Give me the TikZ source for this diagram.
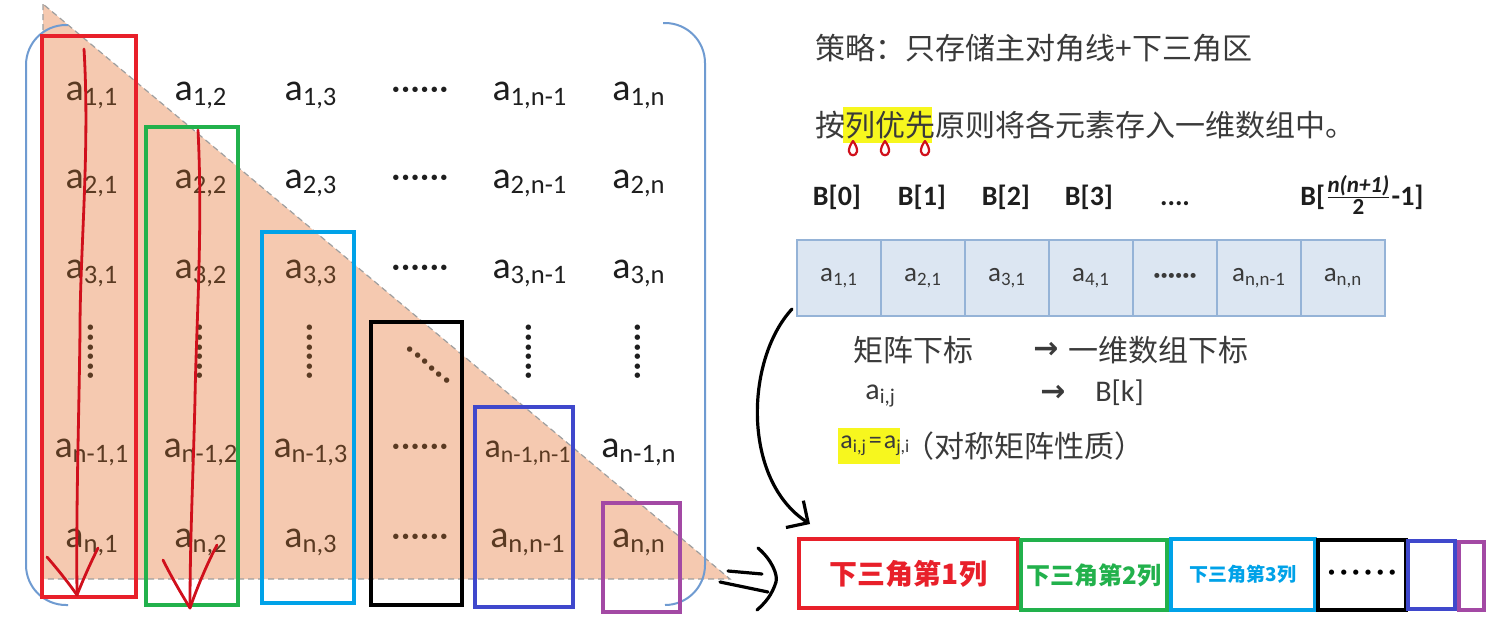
\documentclass[tikz,border=0pt]{standalone}
\usepackage{amsmath}
\usepackage{fontspec}
\setmainfont{Carlito}
\newfontfamily\cjk{Noto Sans CJK SC}
\newfontfamily\symfont{DejaVu Sans}
\usetikzlibrary{positioning,arrows.meta}

\definecolor{triFill}{HTML}{F5C9B0}
\definecolor{entBrown}{HTML}{5A3A22}
\definecolor{entBlack}{HTML}{1E1E1E}
\definecolor{brkBlue}{HTML}{6F9BD1}
\definecolor{boxRed}{HTML}{E8202A}
\definecolor{boxGreen}{HTML}{22B14C}
\definecolor{boxCyan}{HTML}{00A2E8}
\definecolor{boxBlue}{HTML}{3F48CC}
\definecolor{boxPurple}{HTML}{A349A4}
\definecolor{penRed}{HTML}{D0101C}
\definecolor{txtGray}{HTML}{3A3A3A}
\definecolor{cellFill}{HTML}{DCE6F2}
\definecolor{cellLine}{HTML}{95B3D7}
\definecolor{hlYellow}{HTML}{F7F71E}

\newcommand{\ix}[2]{#1\textsubscript{#2}}

\begin{document}
\begin{tikzpicture}[x=0.5pt, y=-0.5pt, >=Stealth,
  ent/.style={font=\fontsize{19}{22}\selectfont, inner sep=0pt, anchor=base, text=entBlack},
  lowent/.style={ent, text=entBrown},
  vdots/.style={font=\fontsize{19}{22}\selectfont, inner sep=0pt, rotate=90, text=#1},
  colbox/.style={draw=#1, line width=2pt},
  pen/.style={penRed, line width=1.4pt, line cap=round, line join=round},
  cell/.style={draw=cellLine, fill=cellFill, line width=0.8pt, outer sep=0pt, inner sep=0pt,
    minimum width=42pt, minimum height=38pt, font=\fontsize{13.5}{15}\selectfont, text=txtGray},
  cjktxt/.style={font=\cjk\fontsize{15}{18}\selectfont, text=txtGray, inner sep=0pt, anchor=west},
  blabel/.style={font=\bfseries\fontsize{14}{16}\selectfont, text=entBlack, inner sep=0pt, anchor=base},
  seg/.style={draw=#1, text=#1, line width=2pt, inner sep=0pt, outer sep=0pt, font=\cjk\bfseries}
]
  \useasboundingbox (0,0) rectangle (1490,638);
  \fill[white] (0,0) rectangle (1490,638);

  % ---- lower triangle and matrix brackets
  \filldraw[fill=triFill, draw=gray!75, dash pattern=on 3pt off 2pt, line width=0.6pt]
    (43,4) -- (43,579) -- (730,579) -- cycle;
  \draw[brkBlue, line width=1pt, rounded corners=20pt] (68,25) -- (26,25) -- (26,605) -- (68,605);
  \draw[brkBlue, line width=1pt, rounded corners=20pt] (663,23) -- (705,23) -- (705,605) -- (665,605);

  % ---- matrix entries, rows 1..3
  \foreach \ri/\y in {1/100,2/188,3/278} {
    \foreach \ci/\x in {1/92,2/201,3/311} {
      \ifnum\ci>\ri \def\st{ent}\else\def\st{lowent}\fi
      \node[\st] (m\ri\ci) at (\x,\y) {\ix{a}{\ri,\ci}};
    }
    \node[ent] (m\ri d) at (420,\y) {······};
    \node[ent] (m\ri x) at (530,\y) {\ix{a}{\ri,n-1}};
    \node[ent] (m\ri n) at (639,\y) {\ix{a}{\ri,n}};
  }
  % row of dots
  \foreach \ci/\x in {1/95,2/204,3/314} {
    \node[vdots=entBrown] (v\ci) at (\x,352) {······};
  }
  \node[font=\fontsize{19}{22}\selectfont, inner sep=0pt, rotate=-41, text=entBrown] (vd) at (426,368) {······};
  \node[vdots=entBlack] (vx) at (533,352) {······};
  \node[vdots=entBlack] (vn) at (642,352) {······};
  % rows n-1 and n
  \node[lowent] (p1) at (92,457) {\ix{a}{n-1,1}};
  \node[lowent] (p2) at (201,457) {\ix{a}{n-1,2}};
  \node[lowent] (p3) at (311,457) {\ix{a}{n-1,3}};
  \node[lowent] (pd) at (420,457) {······};
  \node[lowent, font=\fontsize{17}{20}\selectfont] (px) at (528,457) {\ix{a}{n-1,n-1}};
  \node[ent] (pn) at (639,457) {\ix{a}{n-1,n}};
  \node[lowent] (q1) at (92,547) {\ix{a}{n,1}};
  \node[lowent] (q2) at (201,547) {\ix{a}{n,2}};
  \node[lowent] (q3) at (311,547) {\ix{a}{n,3}};
  \node[lowent] (qd) at (420,547) {······};
  \node[lowent] (qx) at (528,547) {\ix{a}{n,n-1}};
  \node[lowent] (qn) at (639,547) {\ix{a}{n,n}};

  % ---- column frames
  \draw[colbox=boxRed] (42,36) rectangle (136,597);
  \draw[colbox=boxGreen] (146,127) rectangle (238,605);
  \draw[colbox=boxCyan] (262,232) rectangle (354,603);
  \draw[colbox=black] (371,322) rectangle (462,605);
  \draw[colbox=boxBlue] (475,407) rectangle (573,607);
  \draw[colbox=boxPurple] (603,503) rectangle (680,612);

  % ---- hand-drawn column arrows
  \draw[pen] (84,49) .. controls (90,150) and (80,250) .. (80,330) .. controls (79,420) and (76,500) .. (77,595);
  \draw[pen] (47,557) .. controls (60,572) and (70,585) .. (77,595) .. controls (85,575) and (92,560) .. (98,548);
  \draw[pen] (198,130) .. controls (203,230) and (196,330) .. (195,400) .. controls (193,480) and (190,540) .. (190,608);
  \draw[pen] (163,560) .. controls (172,578) and (182,595) .. (190,608) .. controls (198,585) and (208,562) .. (217,545);

  % ---- strategy text
  \node[cjktxt] (t1) at (815,48) {策略：只存储主对角线+下三角区};
  \fill[hlYellow] (843,107) rectangle (932,143);
  \node[cjktxt] (t2) at (815,125) {按列优先原则将各元素存入一维数组中。};
  \foreach \x in {853,885,925} {
    \draw[pen, line width=1.1pt] (\x,141) .. controls (\x-14,160) and (\x+14,160) .. (\x,141);
  }

  % ---- index labels
  \node[blabel] (b0) at (837,205) {B[0]};
  \node[blabel] (b1) at (922,205) {B[1]};
  \node[blabel] (b2) at (1006,205) {B[2]};
  \node[blabel] (b3) at (1089,205) {B[3]};
  \node[blabel] (bd) at (1175,205) {....};
  \node[blabel, anchor=base west] (bn) at (1300,205)
    {B[$\frac{\text{\fontsize{11.5}{12}\selectfont\bfseries\itshape n(n+1)}}{\text{\fontsize{11.5}{12}\selectfont\bfseries 2}}$-1]};

  % ---- one-dimensional array
  \node[cell] (c1) at (839,278) {\ix{a}{1,1}};
  \node[cell, right=0pt of c1] (c2) {\ix{a}{2,1}};
  \node[cell, right=0pt of c2] (c3) {\ix{a}{3,1}};
  \node[cell, right=0pt of c3] (c4) {\ix{a}{4,1}};
  \node[cell, right=0pt of c4] (c5) {\textbf{······}};
  \node[cell, right=0pt of c5] (c6) {\ix{a}{n,n-1}};
  \node[cell, right=0pt of c6] (c7) {\ix{a}{n,n}};

  % ---- mapping notes
  \node[cjktxt] (k1) at (853,350) {矩阵下标};
  \node[cjktxt, font=\symfont\bfseries\fontsize{15}{18}\selectfont] (k2) at (1033,350) {→};
  \node[cjktxt] (k3) at (1068,350) {一维数组下标};
  \node[cjktxt, font=\fontsize{15}{17}\selectfont] (k4) at (865,396) {\ix{a}{i,j}};
  \node[cjktxt, font=\symfont\bfseries\fontsize{15}{18}\selectfont] (k5) at (1040,393) {→};
  \node[cjktxt, font=\fontsize{15}{17}\selectfont] (k6) at (1095,393) {B[k]};
  \fill[hlYellow] (838,428) rectangle (900,464);
  \node[cjktxt, font=\fontsize{13}{15}\selectfont] (k7) at (840,446) {\ix{a}{i,j}\kern1pt=\kern1pt\ix{a}{j,i}};
  \node[cjktxt] (k8) at (904,446) {（对称矩阵性质）};

  % ---- storage order of the lower triangle
  \node[seg=boxRed, minimum width=109.5pt, minimum height=34.5pt, font=\cjk\bfseries\fontsize{14}{16}\selectfont] (s1) at (908.5,573.5) {下三角第1列};
  \node[seg=boxGreen, minimum width=73pt, minimum height=35pt, font=\cjk\bfseries\fontsize{12}{14}\selectfont] (s2) at (1094,575) {下三角第2列};
  \node[seg=boxCyan, minimum width=72pt, minimum height=35.5pt, font=\cjk\bfseries\fontsize{9.5}{11}\selectfont] (s3) at (1243,574.5) {下三角第3列};
  \node[seg=black, minimum width=44pt, minimum height=35pt, font=\bfseries\fontsize{14}{16}\selectfont] (s4) at (1362,575) {·\,·\,·\,·\,·\,·};
  \node[seg=boxBlue, minimum width=23.5pt, minimum height=34pt] (s5) at (1431.5,575) {};
  \node[seg=boxPurple, minimum width=12.5pt, minimum height=34pt] (s6) at (1471.5,576) {};

  % ---- arrows
  \draw[line width=1.6pt, line cap=round, -{Straight Barb[length=8pt, width=16pt]}]
    ([xshift=-2.5pt, yshift=3.5pt]c1.south west) .. controls (745,360) and (742,480) .. ([xshift=5.5pt, yshift=7.5pt]s1.north west);
  \draw[line width=1.6pt, line cap=round] (728,571) -- (762,574);
  \draw[line width=1.6pt, line cap=round] (720,582) -- (768,592);
  \draw[line width=1.6pt, line cap=round] (758,548) .. controls (772,560) and (778,575) .. (776,582) .. controls (772,595) and (765,603) .. (757,610);
\end{tikzpicture}
\end{document}
